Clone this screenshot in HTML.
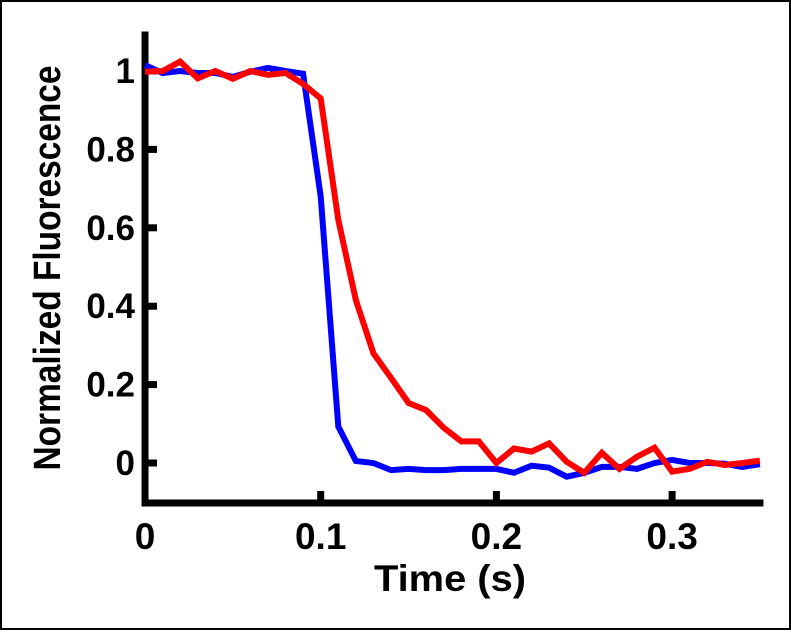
<!DOCTYPE html>
<html><head><meta charset="utf-8"><style>
html,body{margin:0;padding:0;background:#fff;}
#wrap{position:relative;width:791px;height:630px;box-sizing:border-box;border:2px solid #000;}
svg text{font-family:"Liberation Sans",sans-serif;font-weight:bold;fill:#000;}
</style></head><body>
<div id="wrap">
<svg id="chart" width="787" height="626" viewBox="2 2 787 626" xmlns="http://www.w3.org/2000/svg"></svg>
</div>
<script>
const times = [0,0.01,0.02,0.03,0.04,0.05,0.06,0.07,0.08,0.09,0.10,0.11,0.12,0.13,0.14,0.15,0.16,0.17,0.18,0.19,0.20,0.21,0.22,0.23,0.24,0.25,0.26,0.27,0.28,0.29,0.30,0.31,0.32,0.33,0.34,0.35];
const blueValues = [1.015,0.995,1.0,0.995,0.995,0.985,0.998,1.008,1.0,0.993,0.68,0.093,0.005,0.0,-0.018,-0.015,-0.018,-0.018,-0.015,-0.015,-0.015,-0.025,-0.007,-0.012,-0.035,-0.025,-0.01,-0.01,-0.015,0.0,0.008,0.0,0.0,-0.002,-0.01,-0.003];
const redValues = [0.998,1.0,1.024,0.981,1.0,0.98,1.0,0.99,0.995,0.967,0.93,0.62,0.416,0.28,0.217,0.153,0.135,0.09,0.055,0.055,0.0,0.037,0.029,0.05,0.003,-0.025,0.026,-0.015,0.016,0.039,-0.022,-0.015,0.003,-0.005,0.0,0.006];
const xTicks = [0,0.1,0.2,0.3];
const xTickLabels = ["0","0.1","0.2","0.3"];
const yTicks = [0,0.2,0.4,0.6,0.8,1];
const yTickLabels = ["0","0.2","0.4","0.6","0.8","1"];

const svg = document.getElementById('chart');
const NS = 'http://www.w3.org/2000/svg';
const X0 = 145, XS = 1757;
const Y0 = 463, YS = 392;
const xs = t => X0 + t * XS;
const ys = v => Y0 - v * YS;
function mk(tag, attrs){const e=document.createElementNS(NS,tag);for(const k in attrs)e.setAttribute(k,attrs[k]);svg.appendChild(e);return e;}

let ax = mk('path',{d:`M${X0} 35 L${X0} 503 L${xs(0.35)} 503`,fill:'none',stroke:'#000','stroke-width':7,'stroke-linecap':'square'});



xTicks.forEach((t,i)=>{
  const tk = mk('line',{x1:xs(t),x2:xs(t),y1:503,y2:491,stroke:'#000','stroke-width':7});
  
  
  const tx = mk('text',{x:xs(t),y:549,'text-anchor':'middle','font-size':37});
  tx.textContent = xTickLabels[i];
  
  
});
yTicks.forEach((v,i)=>{
  const tk = mk('line',{x1:X0,x2:X0+12,y1:ys(v),y2:ys(v),stroke:'#000','stroke-width':7});
  
  
  const tx = mk('text',{x:X0-10,y:ys(v)+12,'text-anchor':'end','font-size':35});
  tx.textContent = yTickLabels[i];
  
  
});

function series(vals,color,name){
  const d = vals.map((v,i)=>(i?'L':'M')+xs(times[i]).toFixed(1)+' '+ys(v).toFixed(1)).join(' ');
  const p = mk('path',{d:d,fill:'none',stroke:color,'stroke-width':6,'stroke-linejoin':'miter'});
  
  
}
series(blueValues,'#0000ff','blue-series-line');
series(redValues,'#ff0000','red-series-line');

const xl = mk('text',{x:450,y:591,'text-anchor':'middle','font-size':37,textLength:152,lengthAdjust:'spacingAndGlyphs'});
xl.textContent='Time (s)';


const yl = mk('text',{x:0,y:0,'text-anchor':'middle','font-size':38,textLength:405,lengthAdjust:'spacingAndGlyphs',transform:'translate(60,268) rotate(-90)'});
yl.textContent='Normalized Fluorescence';


</script>
</body></html>
